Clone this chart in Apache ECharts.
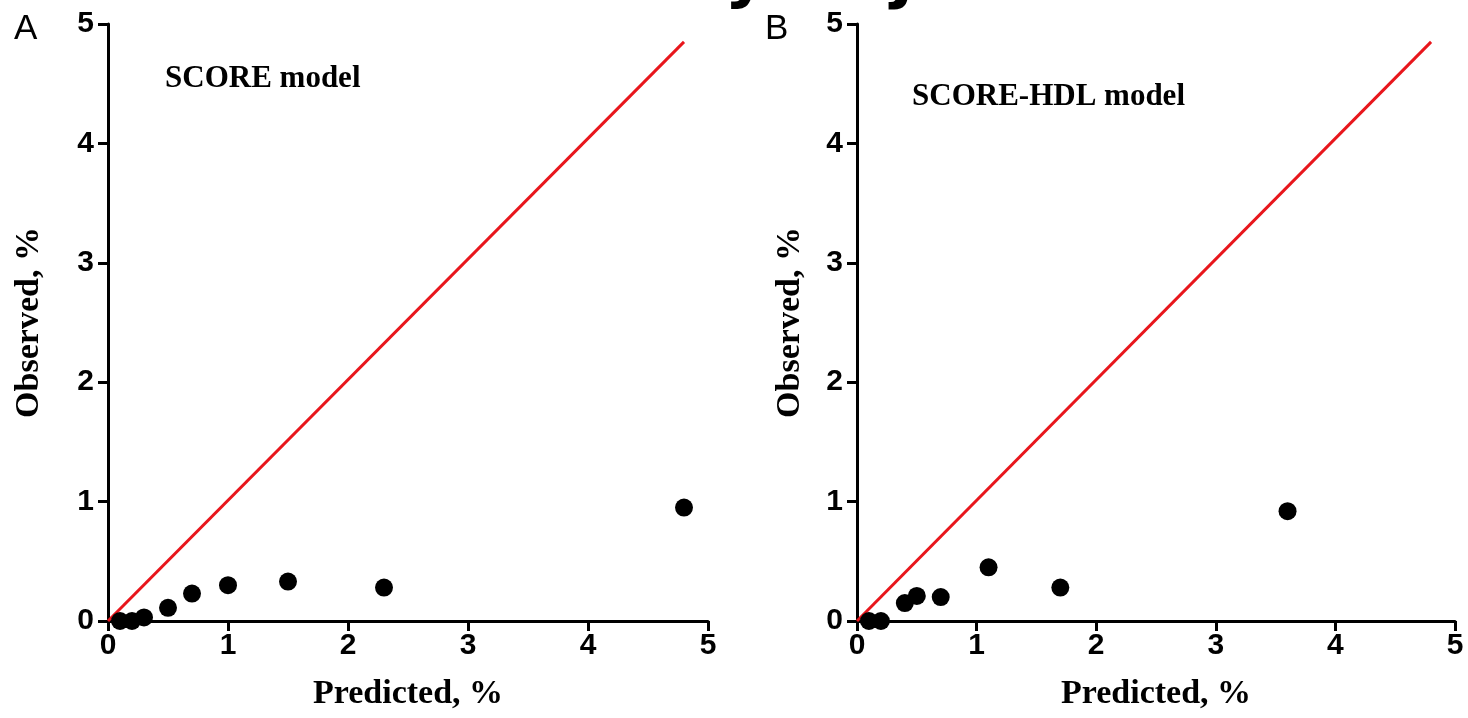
<!DOCTYPE html>
<html>
<head>
<meta charset="utf-8">
<script src="https://cdn.jsdelivr.net/npm/echarts@6/dist/echarts.min.js"></script>
<style>
  html, body { margin: 0; padding: 0; background: #fff; }
  #chart { width: 1468px; height: 718px; }
</style>
</head>
<body>
<div id="chart"></div>
<script>
// Calibration of cardiovascular risk: predicted vs observed risk (%)
const axisTicks = [0, 1, 2, 3, 4, 5];

// Panel A — SCORE model
const predictedA = [0.1, 0.2, 0.3, 0.5, 0.7, 1.0, 1.5, 2.3, 4.8];
const observedA  = [0.0, 0.0, 0.03, 0.11, 0.23, 0.30, 0.33, 0.28, 0.95];

// Panel B — SCORE-HDL model
const predictedB = [0.1, 0.2, 0.4, 0.5, 0.7, 1.1, 1.7, 3.6];
const observedB  = [0.0, 0.0, 0.15, 0.21, 0.20, 0.45, 0.28, 0.92];

// Line of perfect agreement (start and end points, x then y)
const identityX = [0, 4.8];
const identityY = [0, 4.85];

const panelTitles = ['SCORE model', 'SCORE-HDL model'];
const panelLetters = ['A', 'B'];
const xName = 'Predicted, %';
const yName = 'Observed, %';
// Tail of the figure heading that runs above the panels
const headingTail = ['y', 'j'];

const tickFont = { fontFamily: 'Liberation Sans, Arial, sans-serif', fontWeight: 'bold', fontSize: 30, color: '#000' };
const nameFont = { fontFamily: 'Liberation Serif, Times New Roman, serif', fontWeight: 'bold', fontSize: 34, color: '#000' };

function pairs(xs, ys) { return xs.map((x, i) => [x, ys[i]]); }

function valueAxis(gridIndex, isX, nameGap) {
  return {
    type: 'value',
    gridIndex: gridIndex,
    min: axisTicks[0],
    max: axisTicks[axisTicks.length - 1],
    interval: 1,
    name: isX ? xName : yName,
    nameLocation: 'middle',
    nameGap: nameGap,
    nameTextStyle: nameFont,
    axisLine: { show: true, onZero: false, lineStyle: { color: '#000', width: 3 } },
    axisTick: { show: true, inside: false, length: 10, lineStyle: { color: '#000', width: 3 } },
    axisLabel: Object.assign({ margin: isX ? 10 : 14 }, tickFont),
    splitLine: { show: false }
  };
}

const chart = echarts.init(document.getElementById('chart'), null, { renderer: 'canvas' });

const pointStyle = { color: '#000', opacity: 1 };
const lineStyle = { color: '#e8161c', width: 3 };

chart.setOption({
  animation: false,
  backgroundColor: '#fff',
  grid: [
    { left: 108, right: 760, top: 24, bottom: 97, containLabel: false },
    { left: 857, right: 13, top: 24, bottom: 97, containLabel: false }
  ],
  xAxis: [valueAxis(0, true, 56), valueAxis(1, true, 56)],
  yAxis: [valueAxis(0, false, 62), valueAxis(1, false, 50)],
  series: [
    {
      type: 'line', xAxisIndex: 0, yAxisIndex: 0,
      data: pairs(identityX, identityY), showSymbol: false, symbol: 'none',
      lineStyle: lineStyle, z: 2
    },
    {
      type: 'scatter', xAxisIndex: 0, yAxisIndex: 0,
      data: pairs(predictedA, observedA), symbol: 'circle', symbolSize: 18,
      itemStyle: pointStyle, z: 3
    },
    {
      type: 'line', xAxisIndex: 1, yAxisIndex: 1,
      data: pairs(identityX, identityY), showSymbol: false, symbol: 'none',
      lineStyle: lineStyle, z: 2
    },
    {
      type: 'scatter', xAxisIndex: 1, yAxisIndex: 1,
      data: pairs(predictedB, observedB), symbol: 'circle', symbolSize: 18,
      itemStyle: pointStyle, z: 3
    }
  ],
  graphic: [
    { type: 'text', left: 14, top: 12, style: { text: panelLetters[0], font: '35px "Liberation Sans", Arial, sans-serif', fill: '#000' } },
    { type: 'text', left: 765, top: 12, style: { text: panelLetters[1], font: '35px "Liberation Sans", Arial, sans-serif', fill: '#000' } },
    { type: 'text', left: 165, top: 63, style: { text: panelTitles[0], font: 'bold 31px "Liberation Serif", "Times New Roman", serif', fill: '#000' } },
    { type: 'text', left: 912, top: 81, style: { text: panelTitles[1], font: 'bold 31px "Liberation Serif", "Times New Roman", serif', fill: '#000' } },
    { type: 'text', x: 746, y: -22, style: { text: headingTail[0], textAlign: 'center', textVerticalAlign: 'middle', font: 'bold 66px "DejaVu Sans", sans-serif', fill: '#000' } },
    { type: 'text', x: 902, y: -22, style: { text: headingTail[1], textAlign: 'center', textVerticalAlign: 'middle', font: 'bold 66px "DejaVu Sans", sans-serif', fill: '#000' } }
  ]
});
</script>
</body>
</html>
